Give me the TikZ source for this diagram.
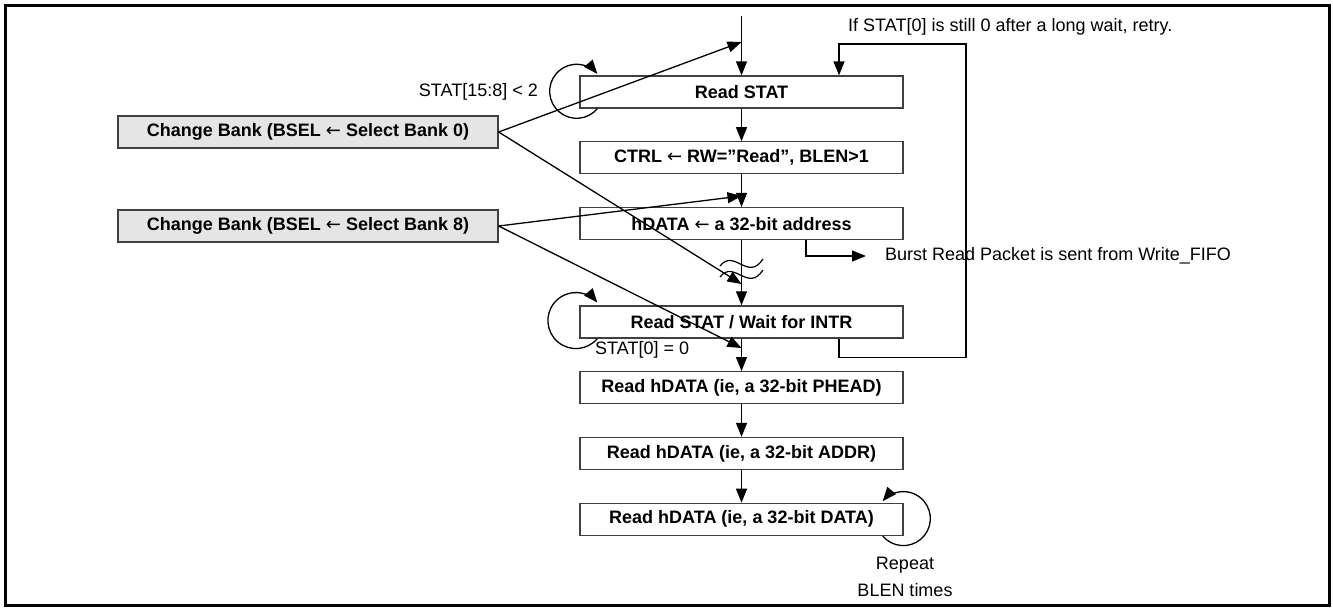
\documentclass[tikz,border=0pt]{standalone}
\usepackage{fontspec}
\setmainfont{Liberation Sans}
\newfontfamily\arrowfont{DejaVu Sans}
\newcommand{\lar}{{\arrowfont\mdseries ←}}
\usetikzlibrary{arrows.meta,positioning}

\begin{document}
\begin{tikzpicture}[x=1pt, y=-1pt,
  stepbox/.style={draw=black!75, line width=1.3pt, minimum width=323pt, minimum height=32pt, inner sep=2pt, font=\fontsize{18}{21}\selectfont\bfseries},
  bankbox/.style={stepbox, fill=black!10, minimum width=380pt},
  arr/.style={-{Triangle[length=14pt, width=11pt]}, line width=1.3pt},
  brk/.style={line width=1.2pt},
  lbl/.style={font=\fontsize{18}{27}\selectfont, inner sep=0pt},
  node distance=32.5pt
]

\useasboundingbox (0,0) rectangle (1333,608);
\draw[line width=3pt] (5,5) rectangle (1329,605);

% main flow
\node[stepbox] (rstat) at (741.5,92) {Read STAT};
\node[stepbox, below=of rstat] (ctrl) {CTRL \lar{} RW=”Read”, BLEN>1};
\node[stepbox, below=of ctrl] (hdata) {hDATA \lar{} a 32-bit address};
\node[stepbox, below=65pt of hdata] (wait) {Read STAT / Wait for INTR};
\node[stepbox, below=of wait] (phead) {Read hDATA (ie, a 32-bit PHEAD)};
\node[stepbox, below=of phead] (addr) {Read hDATA (ie, a 32-bit ADDR)};
\node[stepbox, below=of addr] (data) {Read hDATA (ie, a 32-bit DATA)};

% bank changes
\node[bankbox] (bank0) at (308,132) {Change Bank (BSEL \lar{} Select Bank 0)};
\node[bankbox] (bank8) at (308,226) {Change Bank (BSEL \lar{} Select Bank 8)};

% labels
\node[lbl, anchor=east] (lbl158) at (538,92) {STAT[15:8] < 2};
\node[lbl, anchor=west] (lblzero) at (595,350) {STAT[0] = 0};
\node[lbl, anchor=west] (lblretry) at (848,27) {If STAT[0] is still 0 after a long wait, retry.};
\node[lbl, anchor=west] (lblburst) at (885,256) {Burst Read Packet is sent from Write\_FIFO};
\node[lbl, align=center] (lblrep) at (905,577) {Repeat\\BLEN times};

\coordinate (start) at (741.5,16);
\coordinate (in0) at (741.5,42);
\coordinate (in1) at (741.5,196);
\coordinate (in2) at (741.5,284);
\coordinate (in3) at (741.5,348);
\coordinate (retry) at (966,44);

\draw[arr] (start) -- (rstat);
\draw[arr] (rstat) -- (ctrl);
\draw[arr] (ctrl) -- (hdata);
\draw[arr] (hdata) -- (wait);
\draw[arr] (wait) -- (phead);
\draw[arr] (phead) -- (addr);
\draw[arr] (addr) -- (data);

% break marks
\draw[brk] (720,266) .. controls (734,248) and (748,282) .. (763,259);
\draw[brk] (720,277) .. controls (734,259) and (748,293) .. (763,270);

\draw[arr] (bank0.east) -- (in0);
\draw[arr] (bank0.east) -- (in2);
\draw[arr] (bank8.east) -- (in1);
\draw[arr] (bank8.east) -- (in3);

\draw[arr] ([xshift=97.5pt]wait.south) -- ++(0,19) -| (retry) -| ([xshift=97.5pt]rstat.north);
\draw[arr, shorten >=19pt] ([xshift=64.5pt]hdata.south) |- (lblburst.west);

% self loops
\draw[arr] ([xshift=18pt]rstat.south west) arc[start angle=-40, end angle=-320, radius=27pt];
\draw[arr] ([xshift=18pt]wait.south west) arc[start angle=-40, end angle=-320, radius=28pt];
\draw[arr] ([xshift=-21pt]data.south east) arc[start angle=-140, end angle=140, radius=27pt];

\end{tikzpicture}
\end{document}
